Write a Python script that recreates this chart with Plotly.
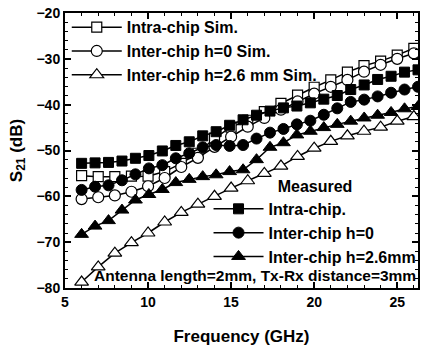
import plotly.graph_objects as go

# Simulated data (1 GHz grid)
freq_sim = [6, 7, 8, 9, 10, 11, 12, 13, 14, 15, 16, 17, 18, 19, 20, 21, 22, 23, 24, 25, 26]
intra_sim = [-55.5, -55.7, -55.7, -55.6, -55.6, -54.6, -52.8, -50.6, -47.3, -44.9, -43.4,
             -41.5, -39.7, -37.9, -36.2, -34.6, -32.9, -31.5, -30.5, -29.2, -27.7]
inter0_sim = [-60.6, -60.2, -59.8, -59.0, -57.8, -56.0, -53.6, -51.6, -49.2, -47.0, -44.8,
              -42.9, -41.1, -39.3, -37.6, -36.1, -34.6, -32.8, -31.3, -30.0, -28.8]
inter26_sim = [-78.7, -75.4, -72.4, -70.1, -68.0, -65.6, -63.5, -61.7, -60.0, -58.2, -56.6,
               -55.0, -53.4, -51.3, -49.5, -48.0, -46.8, -45.8, -44.9, -43.6, -42.6]

# Measured data
freq_meas = [6.0, 6.81, 7.62, 8.43, 9.24, 10.05, 10.86, 11.67, 12.48, 13.29, 14.1, 14.91, 15.72,
             16.53, 17.34, 18.15, 18.96, 19.77, 20.58, 21.39, 22.2, 23.01, 23.82, 24.63, 25.44, 26.25]
intra_meas = [-52.8, -52.7, -52.6, -52.3, -51.7, -51.1, -50.1, -48.9, -48.1, -46.8, -45.9, -44.5,
              -43.3, -42.3, -41.4, -40.7, -40.3, -39.6, -38.8, -38.0, -36.7, -35.7, -34.5, -33.8,
              -32.9, -32.4]
inter0_meas = [-58.6, -57.9, -57.6, -56.5, -55.2, -53.9, -53.2, -51.7, -50.6, -49.3, -48.8, -49.0,
               -48.8, -47.4, -46.1, -45.3, -44.3, -43.5, -42.2, -40.8, -39.4, -38.9, -38.2, -37.4,
               -36.7, -36.1]
inter26_meas = [-68.3, -66.5, -65.3, -63.0, -60.8, -59.6, -58.5, -57.0, -56.3, -55.7, -55.3, -54.6,
                -54.2, -52.0, -49.3, -48.3, -46.6, -45.8, -45.0, -44.3, -43.6, -42.9, -42.3, -41.7,
                -40.9, -40.4]

FONT = "Liberation Sans, Arial, sans-serif"
LINE = dict(color="black", width=1.5)

fig = go.Figure()

sim_series = [
    ("Intra-chip Sim.", intra_sim, "square", 10),
    ("Inter-chip h=0 Sim.", inter0_sim, "circle", 11),
    ("Inter-chip h=2.6 mm Sim.", inter26_sim, "triangle-up", 12),
]
meas_series = [
    ("Intra-chip.", intra_meas, "square", 10),
    ("Inter-chip h=0", inter0_meas, "circle", 11),
    ("Inter-chip h=2.6mm", inter26_meas, "triangle-up", 12),
]

for name, ys, sym, sz in sim_series:
    fig.add_trace(go.Scatter(
        x=freq_sim, y=ys, name=name, mode="lines+markers", line=LINE,
        marker=dict(symbol=sym, size=sz, color="white",
                    line=dict(color="black", width=1.2)),
        legend="legend"))

for name, ys, sym, sz in meas_series:
    fig.add_trace(go.Scatter(
        x=freq_meas, y=ys, name=name, mode="lines+markers", line=LINE,
        marker=dict(symbol=sym, size=sz, color="black",
                    line=dict(color="black", width=1)),
        legend="legend2"))

axis_common = dict(
    showline=True, linecolor="black", linewidth=2, mirror="ticks",
    ticks="inside", ticklen=6, tickwidth=1.5, tickcolor="black",
    showgrid=False, zeroline=False, automargin=False,
    tickfont=dict(family=FONT, size=14, color="black", weight="bold"),
)

fig.update_xaxes(
    range=[5, 26.25], tick0=5, dtick=5,
    minor=dict(ticks="inside", ticklen=3, dtick=1, tickcolor="black", tickwidth=1.2),
    title=dict(text="Frequency (GHz)", font=dict(family=FONT, size=17, color="black", weight="bold"),
               standoff=22),
    **axis_common)
fig.update_yaxes(
    range=[-80, -20], tick0=-80, dtick=10,
    minor=dict(ticks="inside", ticklen=3, dtick=2, tickcolor="black", tickwidth=1.2),
    title=dict(text="S<sub>21</sub> (dB)", font=dict(family=FONT, size=17, color="black", weight="bold"),
               standoff=10),
    **axis_common)

fig.add_annotation(
    x=1.0, xref="paper", xanchor="right", y=0.045, yref="paper", yanchor="middle",
    text="Antenna length=2mm, Tx-Rx distance=3mm", showarrow=False,
    font=dict(family=FONT, size=15.5, color="black", weight="bold"))

fig.update_layout(
    width=428, height=346,
    margin=dict(l=65, r=6, t=13, b=58),
    plot_bgcolor="white", paper_bgcolor="white",
    legend=dict(x=0.005, y=1.01, xanchor="left", yanchor="top",
                bgcolor="rgba(0,0,0,0)", tracegroupgap=0, itemwidth=50,
                font=dict(family=FONT, size=16, color="black", weight="bold")),
    legend2=dict(x=1.01, y=0.425, xanchor="right", yanchor="top",
                 bgcolor="rgba(0,0,0,0)", itemwidth=50,
                 title=dict(text="Measured", side="top center",
                            font=dict(family=FONT, size=16, color="black", weight="bold")),
                 font=dict(family=FONT, size=16, color="black", weight="bold")),
)

fig.write_html("out.html")
